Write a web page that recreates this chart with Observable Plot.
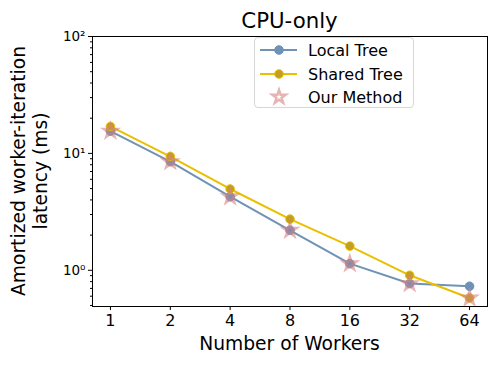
<!DOCTYPE html>
<html><head><meta charset="utf-8">
<script src="https://cdn.jsdelivr.net/npm/d3@7"></script>
<script src="https://cdn.jsdelivr.net/npm/@observablehq/plot@0.6"></script>
<style>
body{margin:0;background:#fff;font-family:"DejaVu Sans",sans-serif}
#wrap{position:relative;width:496px;height:365px}
#legend{position:absolute;left:254px;top:37px;width:160px;height:71px;border:1px solid #d6d6d6;border-radius:4px;background:rgba(255,255,255,0.8);box-sizing:border-box}
</style></head><body><div id="wrap"><div id="legend"></div></div>
<script>
const title="CPU-only";
const xLabel="Number of Workers";
const yLabelLines=["Amortized worker-iteration","latency (ms)"];
const workers=[1,2,4,8,16,32,64];
const localTree=[15.5,8.5,4.26,2.2,1.14,0.77,0.73];
const sharedTree=[17,9.4,4.96,2.74,1.61,0.906,0.58];
const ourMethod=[15.5,8.5,4.26,2.2,1.14,0.77,0.58];
const seriesNames=["Local Tree","Shared Tree","Our Method"];
const yMajorTicks=[1,10,100];
const yTickLabels=["10⁰","10¹","10²"];
const yMinorTicks=[0.5,0.6,0.7,0.8,0.9,2,3,4,5,6,7,8,9,20,30,40,50,60,70,80,90];

const blue="#7093b5", blueFill="#6d91b7";
const gold="#e8c000", goldFill="#c49d22";
const pink="#d98080";

const chart=Plot.plot({
  width:496,height:365,
  marginLeft:92,marginRight:9,marginTop:36,marginBottom:59,
  style:{background:"#fff",fontFamily:"DejaVu Sans",overflow:"visible"},
  x:{type:"log",base:2,domain:[Math.pow(2,-0.3),Math.pow(2,6.3)]},
  y:{type:"log",domain:[0.49,100]},
  marks:[
    Plot.axisX({ticks:workers,tickFormat:d=>String(d),tickSize:4,tickPadding:4,fontSize:16,label:null,stroke:"#000",color:"#000"}),
    Plot.axisY({ticks:yMajorTicks,tickFormat:(d,i)=>yTickLabels[yMajorTicks.indexOf(d)],tickSize:4,tickPadding:3,fontSize:13.5,label:null,color:"#000"}),
    Plot.axisY({ticks:yMinorTicks,tickFormat:()=>"",tickSize:2,label:null}),
    Plot.line(workers,{x:workers,y:localTree,stroke:blue,strokeWidth:2}),
    Plot.line(workers,{x:workers,y:sharedTree,stroke:gold,strokeWidth:2}),
    Plot.dot(workers,{x:workers,y:localTree,r:4.3,fill:blueFill,stroke:blueFill,strokeWidth:1}),
    Plot.dot(workers,{x:workers,y:sharedTree,r:4.3,fill:goldFill,stroke:gold,strokeWidth:1}),
    Plot.dot(workers,{x:workers,y:ourMethod,symbol:"star",r:4.2,fill:"none",stroke:pink,strokeOpacity:0.6,strokeWidth:2.5}),
    Plot.frame({stroke:"#000",strokeWidth:1})
  ]
});
document.getElementById("wrap").prepend(chart);

const svg=d3.select(chart);
const cx=(92+487)/2, cy=(36+306)/2;
svg.append("text").attr("x",cx).attr("y",28).attr("text-anchor","middle")
  .attr("font-size",21.3).attr("fill","#000").text(title);
svg.append("text").attr("x",cx).attr("y",350).attr("text-anchor","middle")
  .attr("font-size",18.7).attr("fill","#000").text(xLabel);
const yl=svg.append("text").attr("transform",`translate(0,${cy}) rotate(-90)`)
  .attr("text-anchor","middle").attr("font-size",18.7).attr("fill","#000");
yl.append("tspan").attr("x",0).attr("y",25).text(yLabelLines[0]);
yl.append("tspan").attr("x",0).attr("y",47).text(yLabelLines[1]);

// legend
const leg=d3.select("#legend").append("svg").attr("width",160).attr("height",71)
  .style("position","absolute").style("left","-1px").style("top","-1px");
const rows=[13,37,60];
const sym=d3.symbol(d3.symbolStar, Math.PI*4.2*4.2)();
rows.forEach((ry,i)=>{
  const g=leg.append("g").attr("transform",`translate(0,${ry})`);
  if(i<2){
    g.append("line").attr("x1",6).attr("x2",43).attr("y1",0).attr("y2",0)
      .attr("stroke",i===0?blue:gold).attr("stroke-width",2);
    g.append("circle").attr("cx",25).attr("cy",0).attr("r",4.3)
      .attr("fill",i===0?blueFill:goldFill).attr("stroke",i===0?blueFill:gold);
  } else {
    g.append("path").attr("d",sym).attr("transform","translate(25,0)")
      .attr("fill","none").attr("stroke",pink).attr("stroke-opacity",0.6).attr("stroke-width",2.5);
  }
  g.append("text").attr("x",54).attr("y",0).attr("dy","0.35em")
    .attr("font-size",16).attr("fill","#000").text(seriesNames[i]);
});
</script></body></html>
